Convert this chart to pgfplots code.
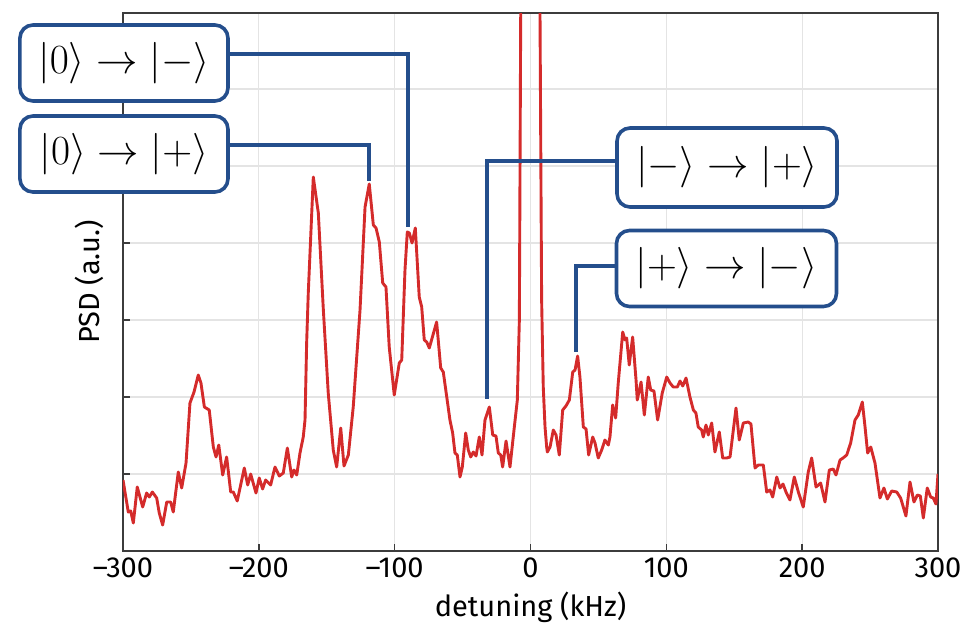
\documentclass[border=0pt]{standalone}
\usepackage{fontspec}
\setmainfont{Fira Sans}
\usepackage{pgfplots}
\pgfplotsset{compat=1.18}
\definecolor{psdred}{RGB}{212,43,43}
\definecolor{boxblue}{RGB}{36,78,140}
\definecolor{gridgray}{RGB}{228,228,228}
\definecolor{axisgray}{RGB}{60,60,60}
\begin{document}
\begin{tikzpicture}
\begin{axis}[
  scale only axis, width=407.5pt, height=269pt,
  xmin=-300, xmax=300, ymin=0, ymax=538,
  xtick={-300,-200,...,300},
  xticklabels={–300,–200,–100,0,100,200,300},
  ytick={77,154,231,308,385,462}, yticklabels={},
  tick align=inside, xtick pos=bottom, ytick pos=left,
  major tick length=3.3pt,
  grid=major, major grid style={gridgray, line width=0.6pt},
  axis line style={axisgray, line width=0.8pt},
  tick style={axisgray, line width=0.8pt},
  ticklabel style={font=\fontsize{14.5}{17}\selectfont},
  label style={font=\fontsize{14.5}{17}\selectfont},
  xlabel={detuning (kHz)},
  ylabel={PSD (a.u.)},
  ylabel style={at={(axis description cs:-0.023,0.5)}, anchor=south, inner sep=0pt},
  clip mode=individual,
]
\addplot[psdred, line width=1.45pt, line join=round] coordinates {
(-300,71) (-296.1,39) (-294.3,40) (-292.4,28) (-289.5,64) (-285.5,44) (-282.6,58) (-280.6,54)
(-278.4,59) (-275.2,53) (-273.3,38) (-270.8,26) (-267.8,49) (-264.9,49) (-263.0,39) (-259.3,79)
(-256.8,63) (-253.6,88) (-250.7,148) (-247.7,159) (-244.6,176) (-242.6,168) (-240.1,144) (-236.5,141)
(-233.5,104) (-231.5,94) (-229.5,106) (-226.6,76) (-223.7,94) (-220.7,59) (-218.8,59) (-215.9,50)
(-210.7,83) (-208.2,66) (-206.0,77) (-202.1,58) (-199.7,73) (-197.2,62) (-195.0,71) (-191.3,66)
(-188.1,84) (-184.9,75) (-182.0,78) (-179.0,103) (-175.8,74) (-174.1,81) (-172.1,76) (-169.7,98)
(-167.3,114) (-166.0,131) (-164.8,208) (-163.6,258) (-159.9,374) (-156.2,338) (-152.5,241) (-148.9,158)
(-145.2,101) (-142.7,84) (-139.7,123) (-137.3,85) (-134.1,96) (-130.5,144) (-125.5,241) (-121.8,344)
(-118.7,367) (-115.7,326) (-113.7,323) (-111.3,309) (-108.8,268) (-106.4,264) (-104.0,204) (-100.3,156)
(-96.6,188) (-94.8,191) (-92.4,281) (-90.7,319) (-89.2,318) (-87.2,308) (-84.8,323) (-81.9,254)
(-80.1,244) (-78.2,211) (-76.4,209) (-74.5,203) (-69.1,229) (-66.1,183) (-64.2,179) (-59.3,131)
(-57.3,118) (-55.6,98) (-53.9,96) (-51.9,74) (-50.2,84) (-47.7,118) (-45.8,101) (-44.0,94)
(-42.1,99) (-40.1,95) (-37.7,114) (-35.7,96) (-33.5,131) (-30.3,144) (-27.8,116) (-25.4,115)
(-23.7,98) (-21.9,96) (-20.5,84) (-18.0,110) (-15.1,84) (-11.9,124) (-9.7,151) (-8.2,231)
(-7.2,538) (-5.5,1100) (0,1600) (5.5,1100) (7.0,538) (8.2,251) (9.4,164) (10.7,124)
(11.9,104) (12.4,99) (14.4,104) (16.8,121) (18.8,116) (21.2,96) (23.7,141) (26.1,145)
(28.6,151) (31.1,179) (32.8,181) (34.7,195) (36.4,174) (38.9,124) (40.9,122) (42.8,96)
(45.8,114) (47.5,108) (49.9,93) (52.4,101) (54.8,111) (57.3,106) (58.5,114) (60.5,146)
(62.7,133) (64.6,168) (67.9,219) (69.6,211) (70.8,213) (72.7,186) (75.2,214) (77.7,171)
(78.6,151) (81.4,169) (83.8,136) (86.7,174) (88.5,161) (90.9,160) (93.6,131) (97.0,158)
(100.3,174) (102.7,168) (105.1,164) (108.1,164) (110.1,170) (112.1,165) (114.5,173) (117.4,154)
(119.9,141) (121.8,138) (123.5,124) (126.0,121) (127.2,114) (129.2,126) (130.9,116) (133.4,128)
(135.8,99) (139.0,119) (141.5,93) (144.4,93) (146.9,94) (151.3,143) (153.7,111) (156.7,128)
(160.3,129) (162.3,127) (165.3,83) (167.7,86) (171.4,86) (173.9,59) (176.3,61) (178.3,54)
(181.3,74) (183.7,63) (185.9,67) (188.1,59) (191.0,51) (194.2,74) (197.2,59) (200.8,44)
(204.5,79) (207.0,93) (210.2,64) (213.6,68) (216.8,49) (220.0,81) (222.9,82) (224.9,76)
(227.9,91) (230.1,93) (232.8,96) (235.7,108) (238.9,131) (241.3,136) (244.3,149) (246.3,124)
(248.2,98) (250.5,104) (253.6,88) (257.3,53) (260.2,63) (262.7,52) (265.9,60) (269.6,59)
(272.5,53) (276.4,35) (279.4,69) (282.3,49) (284.8,56) (287.0,55) (289.2,33) (292.1,63)
(294.6,54) (296.5,53) (298.5,47) (300,77)
};
\draw[boxblue, line width=1.6pt] (axis cs:-222.7,497) -| (axis cs:-90.2,324);
\draw[boxblue, line width=1.6pt] (axis cs:-222.7,406) -| (axis cs:-118.9,370);
\draw[boxblue, line width=1.6pt] (axis cs:63.7,390) -| (axis cs:-32.0,152);
\draw[boxblue, line width=1.6pt] (axis cs:63.7,285) -| (axis cs:33.5,199);
\tikzset{lbl/.style={draw=boxblue, line width=1.8pt, rounded corners=6.5pt, fill=white,
  minimum height=38pt, inner sep=0pt, font=\fontsize{22}{26}\selectfont}}
\node[lbl, minimum width=104pt] at (axis cs:-299.3,488) {$|0\rangle \rightarrow |-\rangle$};
\node[lbl, minimum width=104pt] at (axis cs:-299.3,397) {$|0\rangle \rightarrow |+\rangle$};
\node[lbl, minimum width=110pt, minimum height=39.5pt] at (axis cs:144.7,383.5) {$|-\rangle \rightarrow |+\rangle$};
\node[lbl, minimum width=110pt] at (axis cs:144.3,282.5) {$|+\rangle \rightarrow |-\rangle$};
\end{axis}
\pgfresetboundingbox
\path (-61.5pt,-36pt) rectangle (420pt,275.5pt);
\end{tikzpicture}
\end{document}
